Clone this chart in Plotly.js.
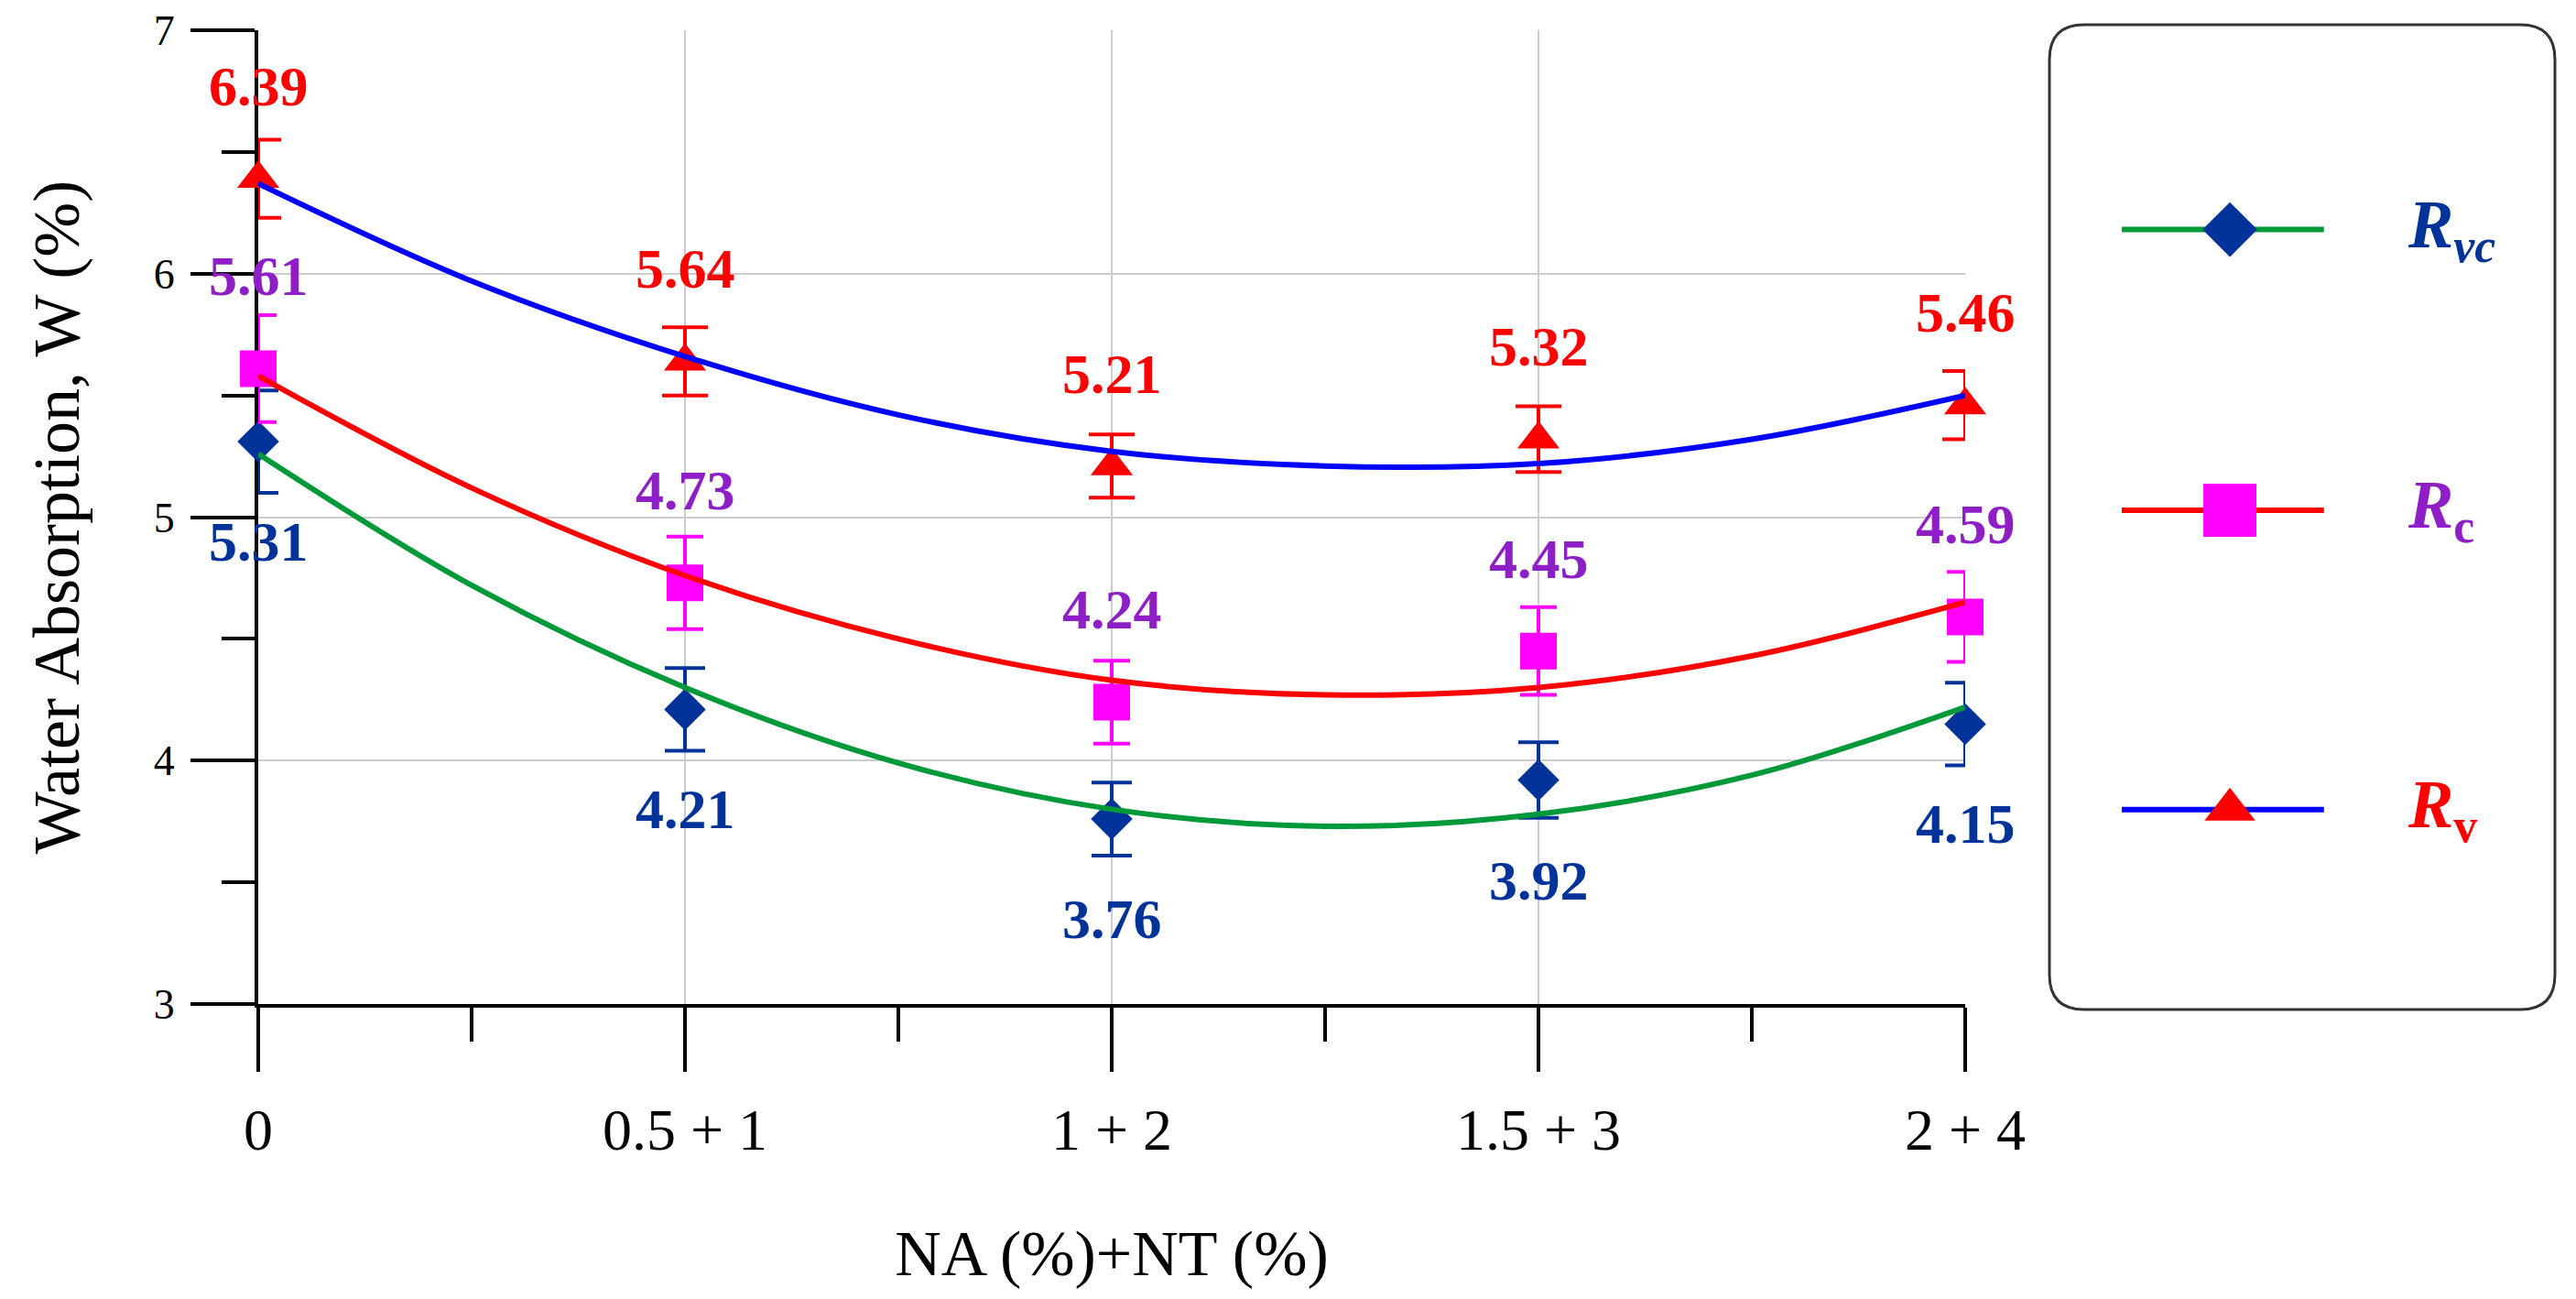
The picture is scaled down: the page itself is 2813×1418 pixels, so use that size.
<!DOCTYPE html>
<html>
<head>
<meta charset="utf-8">
<script src="https://cdn.plot.ly/plotly-3.0.1.min.js"></script>
<style>
  html, body { margin: 0; padding: 0; background: #fff; }
  #chart { width: 2813px; height: 1418px; }
</style>
</head>
<body>
<div id="chart"></div>
<script>
// values
const categories = ['0', '0.5 + 1', '1 + 2', '1.5 + 3', '2 + 4']
const seriesNames = ['Rvc', 'Rc', 'Rv']

const rvc = [5.31, 4.21, 3.76, 3.92, 4.15]
const rc = [5.61, 4.73, 4.24, 4.45, 4.59]
const rv = [6.39, 5.64, 5.21, 5.32, 5.46]

const rvcErr = [0.21, 0.17, 0.15, 0.155, 0.17]
const rcErr = [0.22, 0.19, 0.17, 0.18, 0.185]
const rvErr = [0.16, 0.14, 0.13, 0.135, 0.14]

// trend curves, read every half category step
const fitSteps = [0, 0.5, 1, 1.5, 2, 2.5, 3, 3.5, 4]
const rvcFit = [5.26, 4.72, 4.30, 3.99, 3.80, 3.73, 3.78, 3.94, 4.22]
const rcFit = [5.58, 5.12, 4.76, 4.50, 4.33, 4.27, 4.30, 4.43, 4.65]
const rvFit = [6.37, 5.97, 5.66, 5.42, 5.27, 5.21, 5.22, 5.32, 5.50]

const W = 2813, H = 1418
const px = x => x / W
const py = y => 1 - y / H
const serif = 'Liberation Serif, Times New Roman, serif'

const catIdx = categories.map((c, i) => i)

const styles = {
  Rvc: { marker: 'diamond', mColor: '#003399', lColor: '#00993a', label: '#003399', size: 35, cap: 22, legSize: 46, shift: -109,
         text: '<i>R</i><sub><i>vc</i></sub>' },
  Rc: { marker: 'square', mColor: '#ff00ff', lColor: '#ff0000', label: '#8e1fc6', size: 40, cap: 20, legSize: 58, shift: 101,
        text: '<i>R</i><sub>c</sub>' },
  Rv: { marker: 'triangle-up', mColor: '#ff0000', lColor: '#0000ff', label: '#ff0000', size: 40, cap: 25, legSize: 48, shift: 101,
        text: '<i>R</i><sub>v</sub>' }
}

const values = { Rvc: rvc, Rc: rc, Rv: rv }
const errors = { Rvc: rvcErr, Rc: rcErr, Rv: rvErr }
const fits = { Rvc: rvcFit, Rc: rcFit, Rv: rvFit }

let traces = []
let annotations = []

seriesNames.forEach(name => {
  let s = styles[name]
  traces.push({
    x: catIdx, y: values[name], mode: 'markers', type: 'scatter', cliponaxis: false,
    marker: { symbol: s.marker, size: s.size, color: s.mColor },
    error_y: { type: 'data', array: errors[name], visible: true, color: s.mColor, thickness: 4, width: s.cap },
    hoverinfo: 'none'
  })
})

seriesNames.forEach(name => {
  let s = styles[name]
  traces.push({
    x: fitSteps, y: fits[name], mode: 'lines', type: 'scatter', cliponaxis: false,
    line: { color: s.lColor, width: 6, shape: 'spline', smoothing: 1 },
    hoverinfo: 'none'
  })
  values[name].forEach((v, i) => {
    annotations.push({
      x: catIdx[i], y: v, xref: 'x', yref: 'y', yshift: s.shift,
      text: v.toFixed(2), showarrow: false,
      font: { family: serif, size: 62, color: s.label, weight: 'bold' }
    })
  })
})

// legend drawn on its own hidden axes inside the rounded box
const legRows = [0.792, 0.507, 0.203]
seriesNames.forEach((name, k) => {
  let s = styles[name]
  traces.push({
    x: [0.143, 0.543], y: [legRows[k], legRows[k]], xaxis: 'x2', yaxis: 'y2',
    mode: 'lines', type: 'scatter', line: { color: s.lColor, width: 6 }, hoverinfo: 'none'
  })
  traces.push({
    x: [0.357], y: [legRows[k]], xaxis: 'x2', yaxis: 'y2',
    mode: 'markers', type: 'scatter', marker: { symbol: s.marker, size: s.legSize, color: s.mColor }, hoverinfo: 'none'
  })
  annotations.push({
    x: 0.705, y: legRows[k], xref: 'x2', yref: 'y2', xanchor: 'left', showarrow: false,
    text: '<b>' + s.text + '</b>',
    font: { family: serif, size: 74, color: s.label }
  })
})

// rounded legend frame
const bx0 = 2238, bx1 = 2790, by0 = 27, by1 = 1102, rad = 38
const rx = rad / W, ry = rad / H
const L = px(bx0), R = px(bx1), T = py(by0), B = py(by1)
const framePath =
  'M' + (L + rx) + ',' + T + ' L' + (R - rx) + ',' + T +
  ' Q' + R + ',' + T + ' ' + R + ',' + (T - ry) +
  ' L' + R + ',' + (B + ry) +
  ' Q' + R + ',' + B + ' ' + (R - rx) + ',' + B +
  ' L' + (L + rx) + ',' + B +
  ' Q' + L + ',' + B + ' ' + L + ',' + (B + ry) +
  ' L' + L + ',' + (T - ry) +
  ' Q' + L + ',' + T + ' ' + (L + rx) + ',' + T + ' Z'

const layout = {
  width: W, height: H,
  margin: { l: 0, r: 0, t: 0, b: 0 },
  paper_bgcolor: '#fff', plot_bgcolor: '#fff',
  showlegend: false,
  font: { family: serif, color: '#000', size: 44 },
  xaxis: {
    domain: [px(282), px(2146)], range: [0, 4], fixedrange: true,
    tickmode: 'array', tickvals: catIdx, ticktext: categories,
    tickfont: { family: serif, size: 64, color: '#000' },
    ticks: 'outside', ticklen: 70, tickwidth: 4, tickcolor: '#000',
    ticklabelstandoff: 8,
    minor: { tickmode: 'linear', tick0: 0, dtick: 0.5, ticks: 'outside', ticklen: 37, tickwidth: 4, tickcolor: '#000', showgrid: false },
    showline: true, linecolor: '#000', linewidth: 4,
    showgrid: true, gridcolor: '#cccccc', gridwidth: 2,
    zeroline: false, layer: 'below traces',
    title: { text: 'NA (%)+NT (%)', font: { family: serif, size: 70, color: '#000' }, standoff: 76 }
  },
  yaxis: {
    domain: [py(1096), py(33)], range: [3, 7], fixedrange: true,
    tickmode: 'linear', tick0: 3, dtick: 1,
    tickfont: { family: serif, size: 46, color: '#000' },
    ticks: 'outside', ticklen: 70, tickwidth: 4, tickcolor: '#000',
    ticklabelstandoff: 8,
    minor: { tickmode: 'linear', tick0: 3, dtick: 0.5, ticks: 'outside', ticklen: 36, tickwidth: 4, tickcolor: '#000', showgrid: false },
    showline: true, linecolor: '#000', linewidth: 4,
    showgrid: true, gridcolor: '#cccccc', gridwidth: 2,
    zeroline: false, layer: 'below traces',
    title: { text: 'Water Absorption, W (%)', font: { family: serif, size: 72, color: '#000' }, standoff: 59 }
  },
  xaxis2: { domain: [px(bx0), px(bx1)], range: [0, 1], visible: false, fixedrange: true, anchor: 'y2' },
  yaxis2: { domain: [py(by1), py(by0)], range: [0, 1], visible: false, fixedrange: true, anchor: 'x2' },
  shapes: [{
    type: 'path', xref: 'paper', yref: 'paper', path: framePath,
    line: { color: '#333', width: 3 }, fillcolor: 'rgba(0,0,0,0)', layer: 'below'
  }],
  annotations: annotations
}

Plotly.newPlot('chart', traces, layout, { staticPlot: true })
</script>
</body>
</html>
